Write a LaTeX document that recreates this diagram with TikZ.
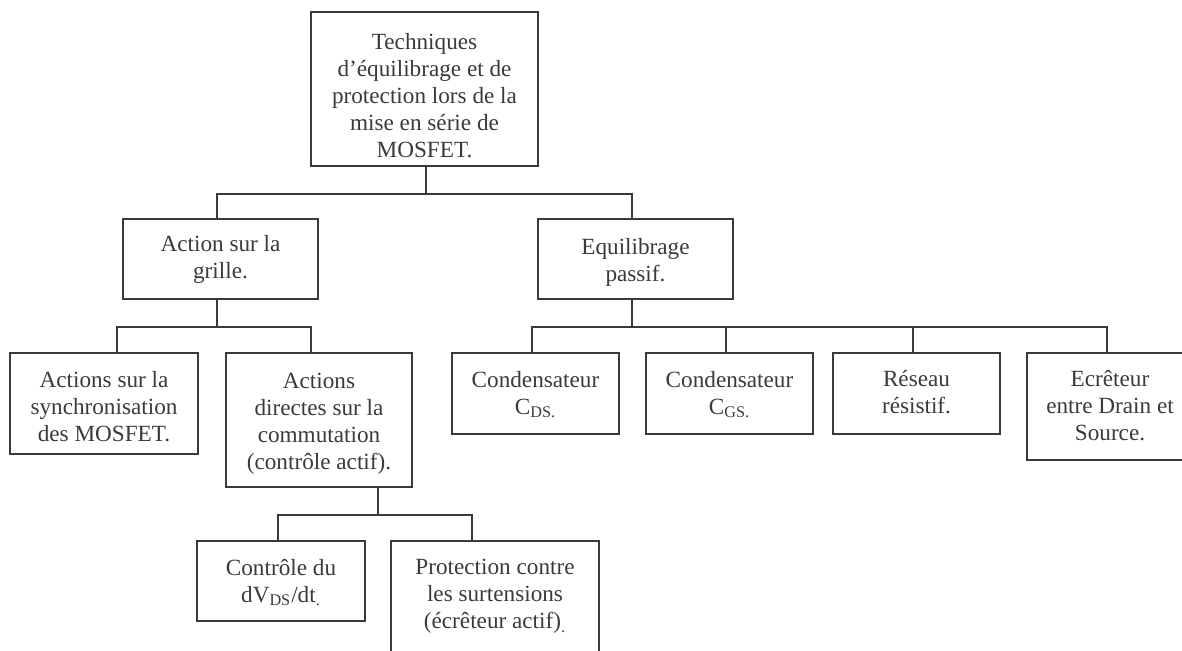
\documentclass[tikz,border=0pt]{standalone}
\usepackage{fontspec}
\setmainfont{Liberation Serif}
\usetikzlibrary{calc}
\definecolor{ink}{HTML}{3A3A3A}
\tikzset{
  box/.style={draw=ink, line width=0.75pt, rectangle, inner sep=0pt},
  txt/.style={align=center, inner sep=0pt, anchor=north, text=ink,
    font=\fontsize{11.6}{13.5}\selectfont, execute at begin node={\rule{0pt}{8pt}}},
  link/.style={draw=ink, line width=0.75pt}
}
\begin{document}
\begin{tikzpicture}[x=0.5pt, y=-0.5pt]
\useasboundingbox (0,0) rectangle (1182,650);
\clip (0,0) rectangle (1182,650);
% level 0
\node[box, minimum width=113.5pt, minimum height=77pt] (root) at (424.5,89) {};
\node[txt] (rootT) at ([yshift=-10.7pt]root.north)
  {Techniques\\d’équilibrage et de\\protection lors de la\\mise en série de\\MOSFET.};
% level 1
\node[box, minimum width=97.5pt, minimum height=40pt] (action) at (220.5,259) {};
\node[txt] (actionT) at ([yshift=-8.4pt]action.north) {Action sur la\\grille.};
\node[box, minimum width=97.5pt, minimum height=40pt] (equil) at (635.5,259) {};
\node[txt] (equilT) at ([yshift=-10pt]equil.north) {Equilibrage\\passif.};
% level 2
\node[box, minimum width=94pt, minimum height=50.5pt] (sync) at (104,403.5) {};
\node[txt] (syncT) at ([yshift=-9.2pt]sync.north)
  {Actions sur la\\synchronisation\\des MOSFET.};
\node[box, minimum width=93pt, minimum height=67pt] (direct) at (319,420) {};
\node[txt] (directT) at ([yshift=-10pt]direct.north)
  {Actions\\directes sur la\\commutation\\(contrôle actif).};
\node[box, minimum width=83.5pt, minimum height=40.5pt] (cds) at (535.5,393.5) {};
\node[txt] (cdsT) at ([yshift=-9.2pt]cds.north) {Condensateur\\C\textsubscript{DS.}};
\node[box, minimum width=83.5pt, minimum height=40.5pt] (cgs) at (729.5,393.5) {};
\node[txt] (cgsT) at ([yshift=-9.2pt]cgs.north) {Condensateur\\C\textsubscript{GS.}};
\node[box, minimum width=83.5pt, minimum height=40.5pt] (reseau) at (916.5,393.5) {};
\node[txt] (reseauT) at ([yshift=-8.9pt]reseau.north) {Réseau\\résistif.};
\node[box, minimum width=83pt, minimum height=53.5pt] (ecret) at (1110,406.5) {};
\node[txt] (ecretT) at ([yshift=-8.9pt]ecret.north) {Ecrêteur\\entre Drain et\\Source.};
% level 3
\node[box, minimum width=84pt, minimum height=40pt] (controle) at (281,581) {};
\node[txt] (controleT) at ([yshift=-9.2pt]controle.north)
  {Contrôle du\\dV\textsubscript{DS}/dt\textsubscript{.}};
\node[box, minimum width=104pt, minimum height=57pt] (protect) at (495,598) {};
\node[txt] (protectT) at ([yshift=-9.2pt]protect.north)
  {Protection contre\\les surtensions\\(écrêteur actif)\textsubscript{.}};
% connectors
\draw[link] ([xshift=0.75pt]root.south) -- ++(0,27) -| ([xshift=-1.75pt]action.north);
\draw[link] ([xshift=0.75pt]root.south) -- ++(0,27) -| ([xshift=-1.75pt]equil.north);
\draw[link] ([xshift=-1.75pt]action.south) -- ++(0,27) -| ([xshift=6.5pt]sync.north);
\draw[link] ([xshift=-1.75pt]action.south) -- ++(0,27) -| ([xshift=-4pt]direct.north);
\draw[link] ([xshift=-1.75pt]equil.south) -- ++(0,27) -| ([xshift=-1.75pt]cds.north);
\draw[link] ([xshift=-1.75pt]equil.south) -- ++(0,27) -| ([xshift=-1.75pt]cgs.north);
\draw[link] ([xshift=-1.75pt]equil.south) -- ++(0,27) -| ([xshift=-1.75pt]reseau.north);
\draw[link] ([xshift=-1.75pt]equil.south) -- ++(0,27) -| ([xshift=-1.5pt]ecret.north);
\draw[link] ([xshift=29.5pt]direct.south) -- ++(0,27) -| ([xshift=-1.5pt]controle.north);
\draw[link] ([xshift=29.5pt]direct.south) -- ++(0,27) -| ([xshift=-11.5pt]protect.north);
\end{tikzpicture}
\end{document}
